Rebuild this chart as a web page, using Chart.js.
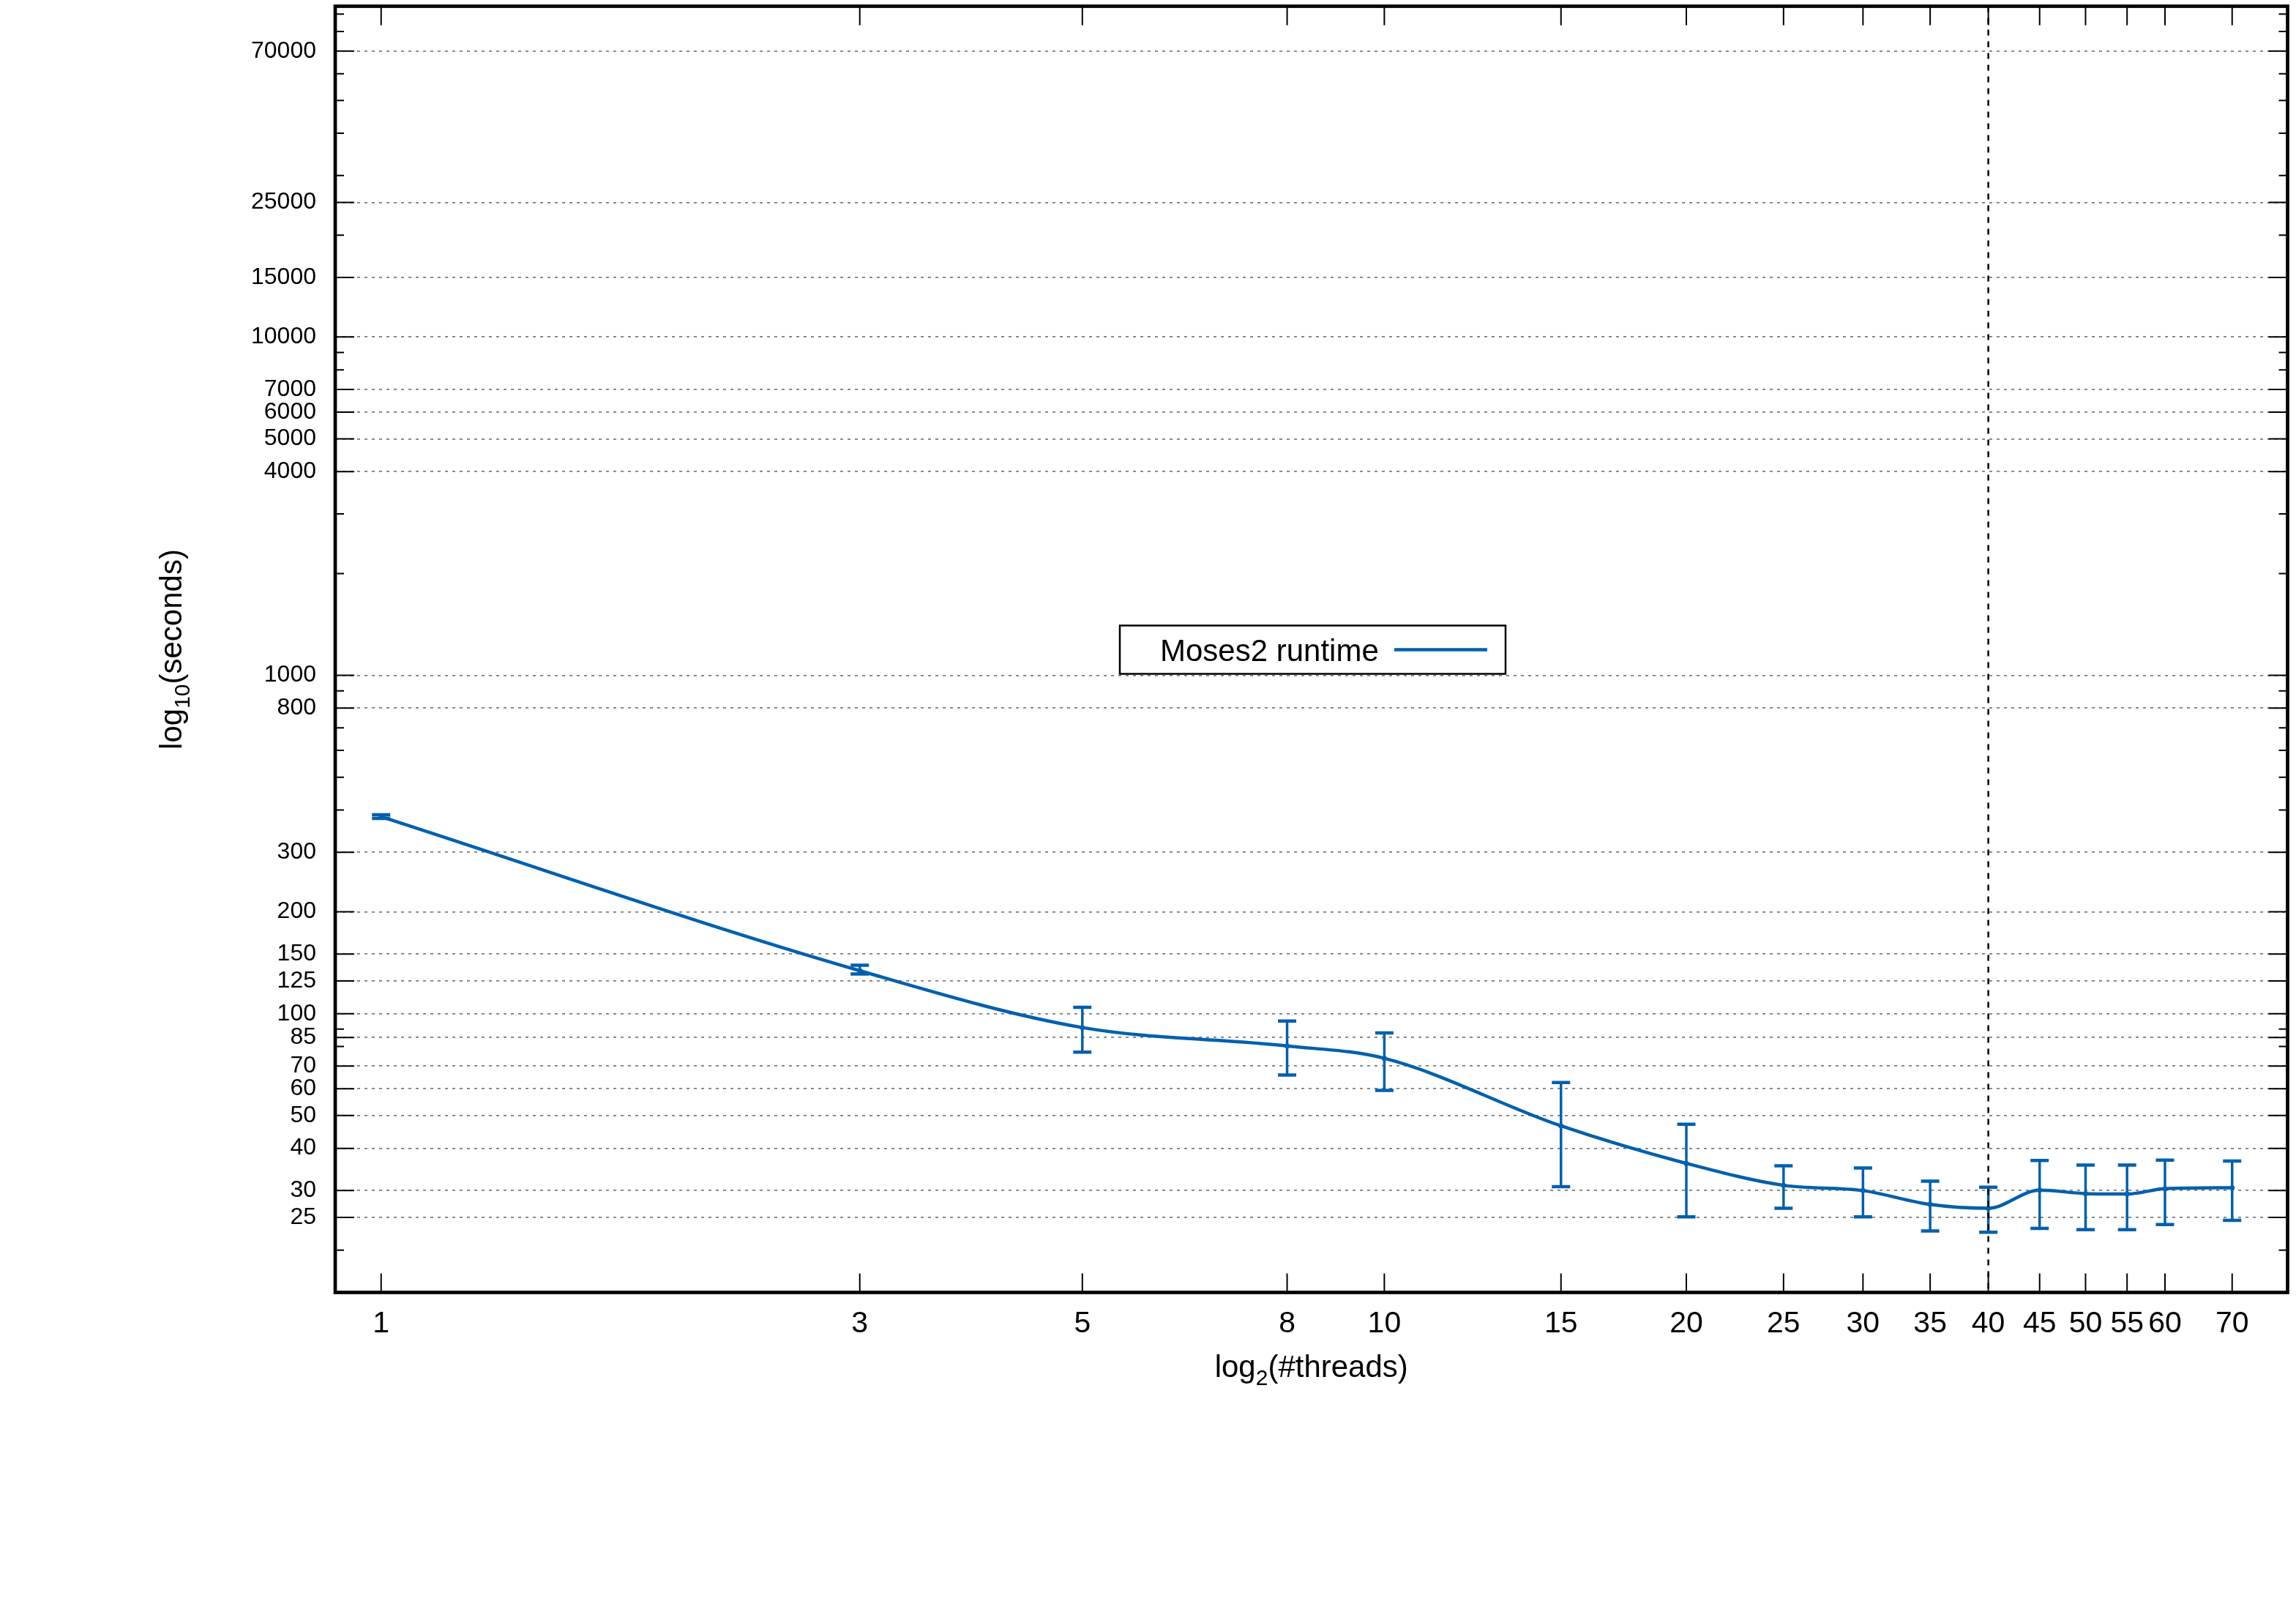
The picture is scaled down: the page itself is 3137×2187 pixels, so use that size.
<!DOCTYPE html>
<html>
<head>
<meta charset="utf-8">
<title>Moses2 runtime</title>
<script src="https://cdn.jsdelivr.net/npm/chart.js@4.4.0/dist/chart.umd.min.js"></script>
<style>
  html, body { margin: 0; padding: 0; background: #fff; }
  canvas { display: block; }
</style>
</head>
<body>
<canvas id="runtime-chart" width="3137" height="2187"></canvas>
<script>
const threads = [1, 3, 5, 8, 10, 15, 20, 25, 30, 35, 40, 45, 50, 55, 60, 70];
const runtime = [382, 134, 91, 80.3, 73.8, 46.6, 36.1, 31.1, 30.0, 27.3, 26.6, 30.1, 29.4, 29.3, 30.4, 30.6];
// error bar ends
const runtimeLow = [377.6, 131, 77.0, 65.9, 59.3, 30.8, 25.1, 26.6, 25.1, 22.8, 22.6, 23.2, 23.0, 23.0, 23.8, 24.5];
const runtimeHigh = [387, 139, 104.4, 95.1, 87.7, 62.6, 47.1, 35.5, 35.0, 32.0, 30.7, 36.8, 35.7, 35.7, 36.9, 36.7];

// tick values
const xTicks = [1, 3, 5, 8, 10, 15, 20, 25, 30, 35, 40, 45, 50, 55, 60, 70];
const yLabelTicks = [25, 30, 40, 50, 60, 70, 85, 100, 125, 150, 200, 300, 800, 1000,
    4000, 5000, 6000, 7000, 10000, 15000, 25000, 70000];
const yMinorTicks = [20, 80, 90, 400, 500, 600, 700, 900, 2000, 3000, 8000, 9000,
    20000, 30000, 40000, 50000, 60000, 80000, 90000];
const markThreads = 40; // dashed vertical marker
const seriesLabel = 'Moses2 runtime';

const BLUE = '#0060ad';
const FONT = '"Liberation Sans", Arial, Helvetica, sans-serif';

// text with a subscript part: parts = [text, size, dy]
function drawParts(ctx, parts, cx, baseY) {
    let total = 0;
    parts.forEach(p => { ctx.font = p[1] + 'px ' + FONT; total += ctx.measureText(p[0]).width; });
    let x = cx - total / 2;
    parts.forEach(p => {
        ctx.font = p[1] + 'px ' + FONT;
        ctx.fillText(p[0], x, baseY + p[2]);
        x += ctx.measureText(p[0]).width;
    });
}

// error bars
const errorBars = {
    id: 'errorBars',
    afterDatasetsDraw(chart) {
        const { ctx, scales: { x, y } } = chart;
        ctx.save();
        ctx.strokeStyle = BLUE;
        threads.forEach((t, i) => {
            const px = x.getPixelForValue(t);
            const top = y.getPixelForValue(runtimeHigh[i]);
            const bot = y.getPixelForValue(runtimeLow[i]);
            ctx.lineWidth = 3.5;
            ctx.beginPath();
            ctx.moveTo(px, top);
            ctx.lineTo(px, bot);
            ctx.stroke();
            ctx.lineWidth = 4.5;
            ctx.beginPath();
            ctx.moveTo(px - 12.5, top); ctx.lineTo(px + 12.5, top);
            ctx.moveTo(px - 12.5, bot); ctx.lineTo(px + 12.5, bot);
            ctx.stroke();
        });
        ctx.restore();
    }
};

// gnuplot style frame, inward ticks, marker line, legend and axis titles
const frame = {
    id: 'frame',
    afterDraw(chart) {
        const { ctx, chartArea: a, scales: { x, y } } = chart;
        ctx.save();

        // vertical marker
        const mx = x.getPixelForValue(markThreads);
        ctx.strokeStyle = '#000';
        ctx.lineWidth = 2.5;
        ctx.setLineDash([8, 8]);
        ctx.beginPath();
        ctx.moveTo(mx, a.top);
        ctx.lineTo(mx, a.bottom);
        ctx.stroke();
        ctx.setLineDash([]);

        // ticks
        ctx.lineWidth = 2;
        ctx.beginPath();
        y.ticks.forEach(t => {
            const py = y.getPixelForValue(t.value);
            const len = yLabelTicks.includes(t.value) ? 26 : 12;
            ctx.moveTo(a.left, py); ctx.lineTo(a.left + len, py);
            ctx.moveTo(a.right, py); ctx.lineTo(a.right - len, py);
        });
        x.ticks.forEach(t => {
            const px = x.getPixelForValue(t.value);
            ctx.moveTo(px, a.bottom); ctx.lineTo(px, a.bottom - 26);
            ctx.moveTo(px, a.top); ctx.lineTo(px, a.top + 26);
        });
        ctx.stroke();

        // border
        ctx.lineWidth = 4.7;
        ctx.strokeRect(a.left, a.top, a.right - a.left, a.bottom - a.top);

        // legend
        const lx = a.left + 1072, ly = a.top + 846;
        ctx.fillStyle = '#fff';
        ctx.fillRect(lx, ly, 527, 66);
        ctx.lineWidth = 2.5;
        ctx.strokeRect(lx, ly, 527, 66);
        ctx.fillStyle = '#000';
        ctx.textAlign = 'left';
        ctx.textBaseline = 'alphabetic';
        ctx.font = '42px ' + FONT;
        ctx.fillText(seriesLabel, lx + 55, ly + 48);
        ctx.strokeStyle = BLUE;
        ctx.lineWidth = 4.5;
        ctx.beginPath();
        ctx.moveTo(lx + 375, ly + 33);
        ctx.lineTo(lx + 502, ly + 33);
        ctx.stroke();

        // axis titles
        ctx.fillStyle = '#000';
        drawParts(ctx, [['log', 42, 0], ['2', 30, 11], ['(#threads)', 42, 0]],
            (a.left + a.right) / 2, a.bottom + 115);
        ctx.translate(248, (a.top + a.bottom) / 2);
        ctx.rotate(-Math.PI / 2);
        drawParts(ctx, [['log', 42, 0], ['10', 30, 11], ['(seconds)', 42, 0]], 0, 0);

        ctx.restore();
    }
};

const ctx = document.getElementById('runtime-chart').getContext('2d');
new Chart(ctx, {
    type: 'line',
    data: {
        datasets: [{
            label: seriesLabel,
            data: threads.map((t, i) => ({ x: t, y: runtime[i] })),
            borderColor: BLUE,
            backgroundColor: BLUE,
            borderWidth: 4.5,
            pointRadius: 3.5,
            pointBorderWidth: 0,
            cubicInterpolationMode: 'monotone',
            fill: false
        }]
    },
    options: {
        responsive: false,
        animation: false,
        layout: { padding: { left: 0, top: 8.5, right: 11.5, bottom: 321.5 } },
        plugins: { legend: { display: false }, tooltip: { enabled: false } },
        scales: {
            x: {
                type: 'logarithmic',
                min: 0.9,
                max: 79.5,
                afterBuildTicks: s => { s.ticks = xTicks.map(v => ({ value: v })); },
                afterFit: s => { s.height = 100; s.paddingLeft = 0; s.paddingRight = 0; },
                grid: { display: false },
                border: { display: false },
                ticks: {
                    autoSkip: false, maxRotation: 0, minRotation: 0, padding: 11,
                    color: '#000', font: { family: FONT, size: 41 },
                    callback: v => String(v)
                }
            },
            y: {
                type: 'logarithmic',
                min: 15,
                max: 95000,
                afterBuildTicks: s => {
                    s.ticks = yMinorTicks.concat(yLabelTicks).sort((p, q) => p - q).map(v => ({ value: v }));
                },
                afterFit: s => { s.width = 458; s.paddingTop = 0; s.paddingBottom = 0; },
                grid: {
                    drawTicks: false,
                    lineWidth: 1.8,
                    color: c => (c.tick && yLabelTicks.includes(c.tick.value)) ? '#7a7a7a' : 'rgba(0,0,0,0)'
                },
                border: { display: false, dash: [4, 6] },
                ticks: {
                    autoSkip: false, padding: 26,
                    color: '#000', font: { family: FONT, size: 32 },
                    callback: v => yLabelTicks.includes(v) ? String(v) : ''
                }
            }
        }
    },
    plugins: [errorBars, frame]
});
</script>
</body>
</html>
